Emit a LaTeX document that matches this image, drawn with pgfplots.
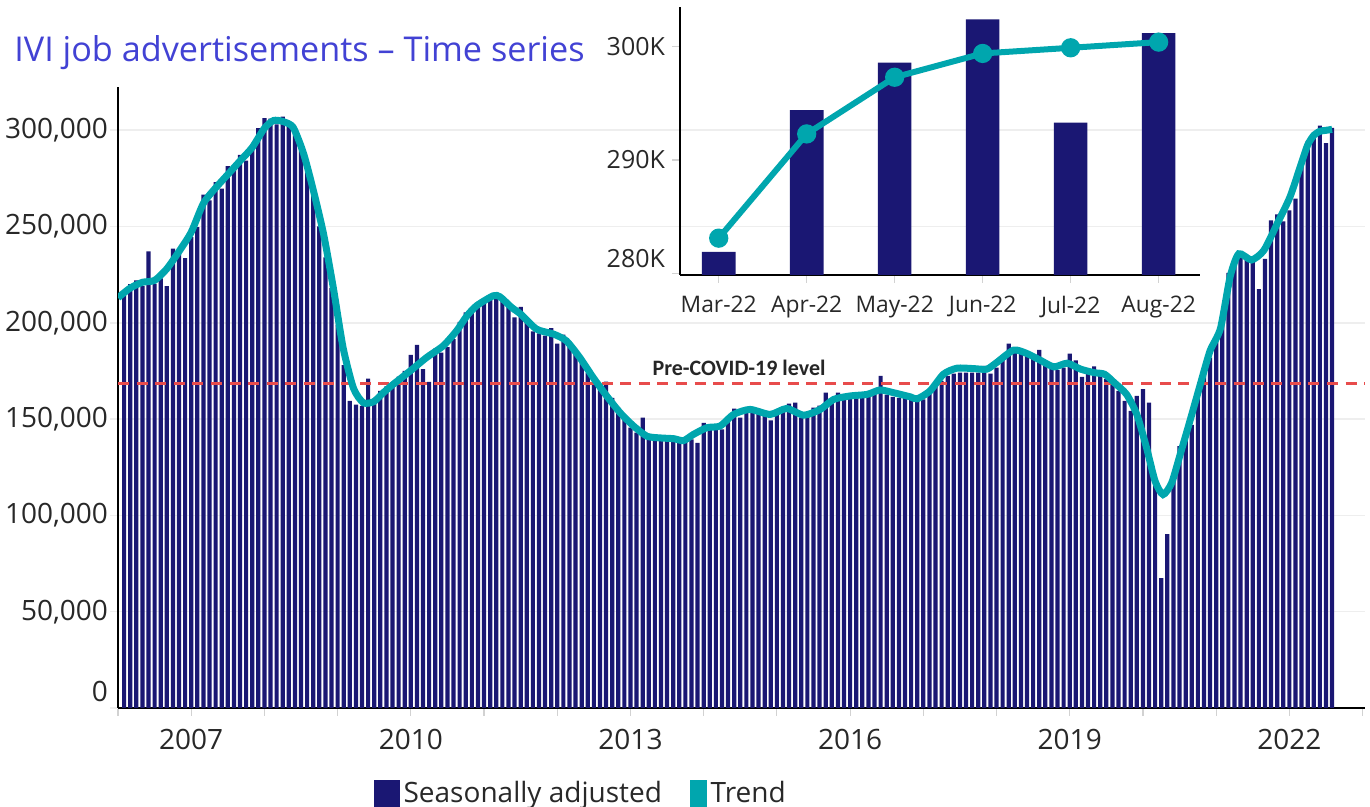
\documentclass[border=0pt]{standalone}
\usepackage{pgfplots}
\pgfplotsset{compat=1.18}
\usepackage{fontspec}
\setmainfont{Open Sans}
\newfontfamily\calibri{Carlito}
\definecolor{navybar}{RGB}{26,23,115}
\definecolor{trendc}{RGB}{0,166,174}
\definecolor{covidred}{RGB}{232,76,76}
\definecolor{titlec}{RGB}{66,66,212}
\definecolor{labc}{RGB}{40,40,40}
\definecolor{gridc}{RGB}{238,238,238}
\begin{document}
\begin{tikzpicture}
\useasboundingbox (0,0) rectangle (685pt,403.5pt);
\node[anchor=west, font=\fontsize{17.1}{20}\selectfont, text=titlec, inner sep=0pt] at (7pt,377pt) {IVI job advertisements – Time series};
\begin{axis}[
  at={(59pt,49.5pt)}, anchor=south west,
  width=623.5pt, height=310.5pt, scale only axis,
  xmin=0, xmax=204.4, ymin=0, ymax=322.4,
  axis lines*=left,
  axis line style={black, line width=0.8pt},
  ytick={0,50,...,300},
  yticklabels={{\smash{\raisebox{3pt}{0}}},{50,000},{100,000},{150,000},{200,000},{250,000},{300,000}},
  ymajorgrids, grid style={draw=gridc, line width=0.8pt},
  xtick={0,12,...,204},
  xticklabels={,2007,,,2010,,,2013,,,2016,,,2019,,,2022,},
  tick align=outside, major tick length=4pt,
  x tick style={draw=gray!35, line width=0.6pt},
  y tick style={draw=gridc, line width=0.8pt},
  tick label style={font=\fontsize{14}{17}\selectfont, text=labc},
  xticklabel style={yshift=-3pt},
  yticklabel style={xshift=2.5pt},
  legend style={at={(axis description cs:0.2,-0.105)}, anchor=north west, draw=none, fill=none,
    font=\fontsize{14}{17}\selectfont, text=labc, legend columns=-1,
    /tikz/every even column/.append style={column sep=12pt}},
  legend cell align=left,
]
\addplot[ybar, bar width=2.1pt, fill=navybar, draw=none, forget plot] coordinates {
(1,216) (2,220) (3,222) (4,219) (5,237) (6,220) (7,223) (8,219) (9,238.5) (10,236.6)
(11,233.5) (12,244.4) (13,249.7) (14,266.5) (15,263.5) (16,273) (17,269.6) (18,281.3) (19,281.9) (20,287.2)
(21,284.2) (22,289.7) (23,301) (24,306.2) (25,306) (26,303) (27,307) (28,302.6) (29,301) (30,292)
(31,279) (32,266) (33,250) (34,234) (35,218) (36,199) (37,178) (38,159.4) (39,157.5) (40,156.8)
(41,171) (42,158) (43,164.6) (44,167) (45,169) (46,172) (47,175) (48,183.3) (49,188.5) (50,175.9)
(51,169.3) (52,186.6) (53,184.5) (54,187.3) (55,191.5) (56,200.5) (57,205.4) (58,206.6) (59,209.7) (60,212.3)
(61,214) (62,215.6) (63,213) (64,209) (65,202.8) (66,208.3) (67,201) (68,195.5) (69,194.5) (70,193.3)
(71,197.2) (72,189.2) (73,193.8) (74,189.6) (75,184.5) (76,179.3) (77,174) (78,170.6) (79,166.7) (80,169.4)
(81,161) (82,155.9) (83,151.6) (84,145.5) (85,142.9) (86,150.7) (87,141.7) (88,141.5) (89,138.5) (90,140.2)
(91,138.5) (92,139) (93,138.5) (94,139.5) (95,137.7) (96,148) (97,146.4) (98,145.5) (99,144.6) (100,150.3)
(101,155.4) (102,150.7) (103,154.2) (104,153.5) (105,155.4) (106,153) (107,149.3) (108,154.9) (109,156) (110,158)
(111,158.5) (112,150.7) (113,152.5) (114,155.9) (115,157) (116,163.7) (117,159.4) (118,163.7) (119,162.5) (120,161.5)
(121,161) (122,162) (123,163) (124,164) (125,172.4) (126,162.7) (127,161.5) (128,161) (129,161) (130,160.2)
(131,160.2) (132,160.2) (133,165.5) (134,167.5) (135,169.8) (136,172.4) (137,173.6) (138,174.1) (139,174.1) (140,174.1)
(141,174.1) (142,177.6) (143,173.6) (144,176.7) (145,181.9) (146,189.2) (147,185) (148,184.5) (149,183.7) (150,182.3)
(151,185.9) (152,179.3) (153,175.9) (154,175.4) (155,176.7) (156,184) (157,180.5) (158,171.9) (159,174.1) (160,177.3)
(161,172.4) (162,170.7) (163,169) (164,164.6) (165,159.4) (166,154.2) (167,162) (168,165.5) (169,158.5) (170,116.3)
(171,67.4) (172,90.3) (173,119.8) (174,135.9) (175,138.9) (176,147) (177,160.9) (178,173.6) (179,181.9) (180,192.4)
(181,199) (182,225.9) (183,231.9) (184,234) (185,235) (186,232) (187,217.5) (188,233.2) (189,253.1) (190,256.3)
(191,252.6) (192,258.3) (193,264.4) (194,281.9) (195,294.4) (196,298.6) (197,302.4) (198,293.3) (199,301.2)
};
\addplot[covidred, line width=1.5pt, dash pattern=on 5.5pt off 3.8pt, forget plot] coordinates {(0,168.3) (204.4,168.3)};
\addplot[trendc, line width=3.5pt, smooth, tension=0.4, forget plot] coordinates {
(0,213) (2,218) (4,221) (6,222) (8,228) (10,237) (12,247) (14,262) (16,270) (18,277) (20,284) (22,291) (24,301)
(25.5,305) (27,304.5) (28.7,301.5) (30.4,288) (32,269) (33.7,246) (35.3,218) (36.9,187) (38.6,166) (40.2,158.5)
(41.9,159) (43.5,163.7) (45.1,168) (47.9,175) (50.6,182) (53.3,188) (55.5,195.8) (57.2,203.6) (58.8,208.9)
(61.5,214) (62.6,213.5) (64.5,208) (66,204.5) (68.6,196.7) (71.4,194.1) (73.5,190.6) (75.7,181.9) (77.9,171.5)
(80.1,162) (82.3,153.3) (84.5,146.4) (86.7,141.1) (88.9,140.2) (91.1,139.8) (92.7,138.8) (94.3,142) (96.5,145.5)
(98.7,146.4) (100.9,152.4) (103.6,155) (106.9,152.4) (109.6,155.5) (112.4,152) (115.1,155) (117.3,160.2) (120,162)
(122.8,162.8) (124.9,165.1) (127.1,163.7) (129.9,161.5) (131,160.5) (133.1,164.6) (135.3,173.3) (137.5,176.4)
(140.2,176.2) (142.4,175.9) (144,179.3) (146.8,185.8) (149,184) (151.2,180.5) (153.4,177.1) (155.6,179) (157.8,175.9)
(160,174.1) (161.7,173.3) (163.3,168.9) (165.3,162.9) (167,152.4) (168.6,135) (170,117.7) (171.3,110.8) (172.7,116.8)
(174.1,131.6) (175.7,149) (177.4,168) (179,185.4) (180.7,197) (182.3,224) (183.7,235.8) (185.8,232.6) (187.8,237.5)
(190,251.4) (192.1,265.3) (194,283.1) (195,292.3) (196,297.3) (197,299.4) (198,299.9) (199,300.4)
};
\node[font=\calibri\bfseries\fontsize{11}{13}\selectfont, text=black!85] at (axis cs:101.8,176.5) {Pre-COVID-19 level};
\addlegendimage{legend image code/.code={\fill[navybar] (0pt,-6.5pt) rectangle (12.5pt,6.5pt);}}
\addlegendentry{Seasonally adjusted}
\addlegendimage{legend image code/.code={\fill[trendc] (0pt,-6.5pt) rectangle (8pt,6.5pt);}}
\addlegendentry{Trend}
\end{axis}
\begin{axis}[
  at={(340pt,266pt)}, anchor=south west,
  width=260pt, height=134pt, scale only axis,
  xmin=-0.44, xmax=5.47, ymin=279.85, ymax=303.5,
  axis lines*=left,
  axis line style={black, line width=0.8pt},
  xtick={0,...,5},
  xticklabels={Mar-22,Apr-22,May-22,Jun-22,Jul-22,Aug-22},
  ytick={280,290,300},
  yticklabels={{\smash{\raisebox{3pt}{280K}}},290K,300K},
  tick align=outside, major tick length=4pt,
  tick style={draw=gray!35, line width=0.6pt},
  tick label style={font=\fontsize{12.5}{15}\selectfont, text=labc},
  xticklabel style={font=\fontsize{11.4}{14}\selectfont, yshift=-3pt},
]
\addplot[ybar, bar width=16.8pt, fill=navybar, draw=none] coordinates {
(0,281.9) (1,294.4) (2,298.6) (3,302.4) (4,293.3) (5,301.2)};
\addplot[trendc, line width=3pt, mark=*, mark size=3.3pt, mark options={fill=trendc, draw=trendc}] coordinates {
(0,283.1) (1,292.3) (2,297.3) (3,299.4) (4,299.9) (5,300.4)};
\end{axis}
\end{tikzpicture}
\end{document}
